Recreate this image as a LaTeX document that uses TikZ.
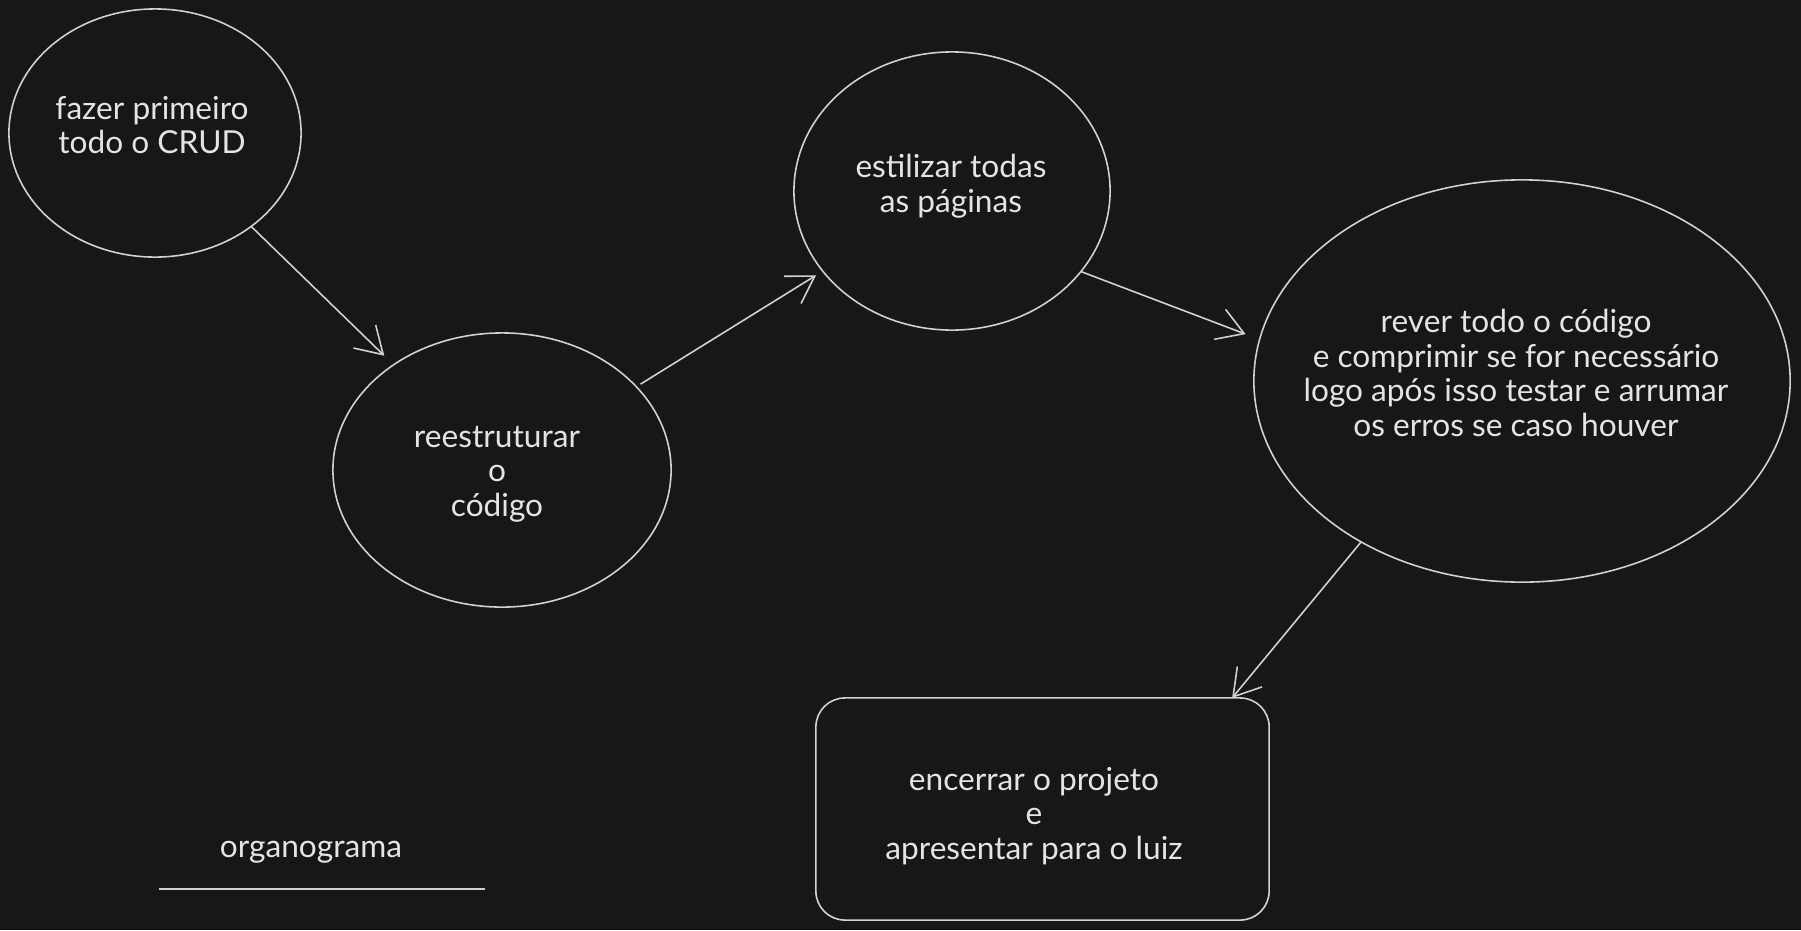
\documentclass[tikz,border=0pt]{standalone}
\usepackage{fontspec}
\setmainfont{Lato}
\usetikzlibrary{shapes.geometric,arrows.meta}
\definecolor{bgdark}{RGB}{23,23,23}
\definecolor{ink}{RGB}{210,210,210}
\definecolor{chalk}{RGB}{228,228,228}

\begin{document}
\begin{tikzpicture}[x=0.01cm,y=-0.01cm,
    bolha/.style={draw=ink,ellipse,line width=0.45pt,inner sep=0pt,outer sep=0pt},
    caixa/.style={draw=ink,rounded corners=0.29cm,line width=0.45pt,inner sep=0pt,outer sep=0pt,
      minimum width=4.53cm,minimum height=2.22cm},
    texto/.style={text=chalk,align=center,font=\fontsize{9}{9.8}\selectfont},
    seta/.style={draw=ink,line width=0.45pt,-{Straight Barb[length=2.6mm,width=3.2mm]}}]
  \fill[bgdark] (0,0) rectangle (1801,930);
  \useasboundingbox (0,0) rectangle (1801,930);
  % etapas
  \node[bolha,minimum width=2.92cm,minimum height=2.48cm] (crud) at (155,133) {};
  \node[bolha,minimum width=3.38cm,minimum height=2.74cm] (reest) at (502,470) {};
  \node[bolha,minimum width=3.16cm,minimum height=2.78cm] (estilo) at (952,191) {};
  \node[bolha,minimum width=5.36cm,minimum height=4.02cm] (rever) at (1522,381) {};
  \node[caixa] (fim) at (1042.5,809) {};
  % textos
  \node[texto] (tcrud) at (152,125) {fazer primeiro\\todo o CRUD};
  \node[texto] (treest) at (497,474) {reestruturar\\o\\código};
  \node[texto] (testilo) at (951,186) {estilizar todas\\as páginas};
  \node[texto] (trever) at (1516,373) {rever todo o código\\e comprimir se for necessário\\logo após isso testar e arrumar\\os erros se caso houver};
  \node[texto] (tfim) at (1034,816) {encerrar o projeto\\e\\apresentar para o luiz};
  \node[texto] (titulo) at (311,852) {organograma};
  \draw[ink,line width=0.7pt] (159,889) -- (485,889);
  % setas
  \draw[seta,shorten >=1.3mm] (crud) -- (reest);
  \draw[seta,shorten <=0.5mm,shorten >=0.8mm] (reest) -- (estilo);
  \draw[seta,shorten >=1.5mm] (estilo.-32) -- (rever.171.6);
  \draw[seta] (rever.-135.4) -- ([xshift=-0.37cm]fim.north east);
\end{tikzpicture}
\end{document}
